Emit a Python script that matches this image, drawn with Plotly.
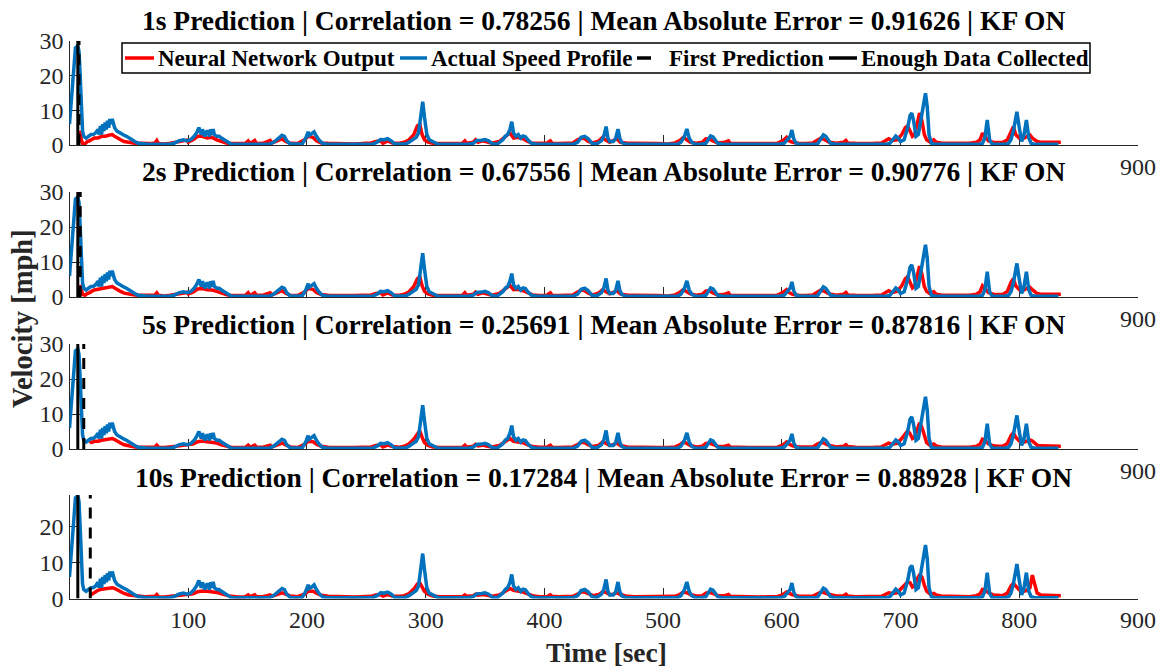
import plotly.graph_objects as go

W, H = 1169, 668

HORIZONS = ["1s", "2s", "5s", "10s"]
CORRELATION = ["0.78256", "0.67556", "0.25691", "0.17284"]
MAE = ["0.91626", "0.90776", "0.87816", "0.88928"]
ENOUGH_DATA_T = 7
FIRST_PRED_T = [8, 9, 12, 17.5]
Y_TOP = [30, 30, 30, 28.8]
X_TICKS = [100, 200, 300, 400, 500, 600, 700, 800, 900]

# measured speed profile [mph] at time [sec]
ACTUAL_T = [0, 2, 4, 5, 7, 8, 9, 10, 11, 12, 14, 16, 18, 20, 22, 24, 25, 26, 27, 28,
            29, 30, 31, 32, 33, 34, 35, 36, 37, 38, 40, 42, 44, 46, 48, 50, 52, 55, 58, 62,
            66, 84, 88, 92, 96, 99, 102, 105, 107, 109, 110, 111, 112, 113, 114, 116, 117, 118, 119, 120,
            121, 122, 124, 126, 128, 130, 133, 136, 140, 168, 172, 176, 179, 181, 183, 186, 190, 196, 199, 201,
            202, 204, 206, 208, 210, 213, 217, 255, 259, 262, 265, 268, 271, 274, 278, 283, 286, 289, 292, 294,
            296, 297.5, 299, 301, 303, 306, 310, 314, 336, 340, 343, 347, 350, 353, 356, 360, 365, 367, 369, 371,
            372.5, 374, 376, 378, 380, 382, 384, 386, 389, 393, 424, 428, 431, 434, 437, 440, 444, 448, 450, 452,
            453.5, 455, 458, 460, 462, 463.5, 465, 468, 472, 512, 515, 518, 520, 522, 524, 527, 532, 536, 538, 540,
            542, 544, 546, 550, 598, 602, 605, 607, 608.5, 610, 612, 615, 630, 633, 635, 637, 639, 641, 645, 688,
            691, 694, 696, 698, 700, 703, 706, 708, 709.5, 711, 713, 715, 717, 719, 721, 722.5, 724, 726, 729, 766,
            769, 771, 773, 775, 777, 780, 788, 791, 793, 795, 797, 798, 800, 802, 804, 806, 808, 810, 813, 833]
ACTUAL_V = [6, 14, 24, 28, 28.6, 27, 20, 10, 4, 2.5, 2, 2.5, 3, 3, 3.5, 4.5, 3, 5.5, 3, 6,
            4, 6.5, 4.5, 7, 5, 7.5, 6, 7.5, 6.5, 5, 4, 3.5, 3, 2.8, 2.5, 2, 1.5, 1, 0.5, 0.3,
            0.2, 0.2, 0.5, 1.2, 1.5, 1.2, 1.5, 2.5, 3.5, 5, 4, 3, 4.5, 3.5, 2.5, 4.2, 3, 2.5, 4.5, 3,
            4.6, 3, 2.5, 2.5, 2, 1.5, 0.8, 0.3, 0.2, 0.2, 0.8, 1.8, 2.8, 2.5, 1.2, 0.3, 0.2, 0.3, 2, 3.8,
            2.8, 3.2, 3.8, 2.5, 1.5, 0.5, 0.2, 0.2, 0.8, 1.6, 1.5, 1.8, 1.2, 0.3, 0.2, 0.3, 0.8, 1.5, 2.2, 3.5,
            8, 12.5, 8, 3, 1.5, 1, 0.3, 0.2, 0.2, 0.5, 1.3, 1.4, 1.6, 1.2, 0.4, 0.2, 1.5, 2.5, 3, 4.5,
            6.7, 3.5, 2.5, 3, 2, 2.6, 2.4, 1.5, 0.5, 0.2, 0.2, 0.8, 2.2, 2.5, 1.8, 0.5, 0.3, 1.2, 2.5, 5.3,
            2, 1, 1, 1.8, 4.6, 2, 0.8, 0.3, 0.2, 0.2, 0.8, 2.5, 4.6, 2, 0.8, 0.3, 0.2, 0.5, 1.5, 2.6,
            2.3, 1.5, 0.5, 0.2, 0.2, 0.5, 1.5, 2.5, 4.3, 1.8, 0.5, 0.2, 0.3, 1.8, 2.9, 2.5, 1.5, 0.5, 0.2, 0.2,
            0.5, 2, 2.6, 2, 1, 1.5, 5, 8.5, 9.2, 7, 2.5, 3, 7, 12, 14.9, 11, 3, 0.5, 0.2, 0.2,
            0.5, 2, 7.2, 1.5, 0.3, 0.2, 0.2, 0.5, 1.5, 4, 7.5, 9.6, 5, 1, 3, 7.2, 2, 0.5, 0.2, 0.2]

# neural network output [mph]; None before the first prediction of each horizon
NN_T = [8, 9, 10, 11, 13, 15, 17.5, 18, 21, 24, 27, 30, 33, 36, 38, 40, 43, 46, 50, 55,
        60, 64, 68, 72, 73.5, 75, 80, 85, 90, 94, 99, 100, 104, 108, 112, 116, 120, 124, 128, 132,
        136, 142, 148, 150.5, 152, 156, 157.5, 163, 169, 170.5, 176, 179, 182, 186, 192, 198, 201, 205, 208, 212,
        218, 224, 230, 236, 240, 246, 250, 254, 258, 262, 264, 268, 272, 278, 282, 286, 290, 293, 295, 297,
        299, 302, 306, 312, 320, 326, 331, 333, 334.5, 340, 342, 344, 348, 352, 356, 362, 366, 369, 371, 374,
        378, 382, 386, 390, 396, 402, 405, 406.5, 412, 418, 424, 428, 431, 434, 437, 441, 446, 449, 451, 455,
        458, 461, 464, 470, 476, 482, 488, 496, 504, 510, 514, 517, 520, 523, 528, 533, 536, 539, 542, 546,
        552, 555, 556.5, 564, 572, 580, 588, 596, 601, 604, 606, 609, 614, 620, 626, 630, 633, 636, 640, 646,
        652, 654, 655.5, 662, 668, 676, 684, 690, 693, 697, 701, 704, 706, 708, 710, 712, 714, 716, 718, 720,
        722, 725, 728, 730, 734, 742, 750, 758, 764, 767, 769, 771, 774, 778, 782, 786, 790, 793, 795, 797,
        800, 803, 806, 809, 811, 813, 815, 818, 824, 830, 835]
NN_V_1S = [4, 3.5, 1.5, 0.5, 0.3, 1, 1.3, 1.5, 2, 2, 2.5, 2.5, 2.8, 3, 2.5, 2, 1.5, 1, 0.7, 0.5,
           0.5, 0.4, 0.4, 0.6, 1.3, 0.4, 0.3, 0.5, 0.8, 1, 1.4, 0.8, 1.5, 2.5, 2.5, 2, 2.2, 1.5, 1, 0.6,
           0.4, 0.3, 0.4, 1.2, 0.4, 1.3, 0.4, 0.5, 1.3, 0.6, 1.5, 1.8, 1, 0.5, 0.4, 1.5, 2.5, 2.2, 1.2, 0.6,
           0.5, 0.4, 0.3, 0.4, 0.3, 0.4, 0.5, 0.6, 1, 1.2, 0.5, 1.2, 0.6, 0.5, 0.8, 1.5, 3, 5.5, 6, 3,
           1.5, 0.8, 0.5, 0.4, 0.3, 0.4, 0.5, 1.2, 0.5, 0.8, 1.5, 0.8, 1.2, 0.8, 0.5, 1, 2, 3, 3.5, 2,
           2.2, 1.8, 1, 0.5, 0.4, 0.5, 1.2, 0.5, 0.4, 0.4, 0.6, 1.5, 2, 1.8, 1, 0.6, 1.2, 2.2, 1.6, 0.8,
           1.3, 1.8, 0.8, 0.5, 0.5, 0.4, 0.3, 0.4, 0.3, 0.6, 1.3, 2.2, 1.5, 0.8, 0.5, 0.8, 1.8, 1.7, 1.2, 0.6,
           0.8, 1.2, 0.5, 0.4, 0.3, 0.4, 0.4, 0.5, 1.3, 2.2, 1.2, 0.8, 0.5, 0.4, 0.6, 1.5, 2, 1.5, 0.8, 0.5,
           0.8, 1.3, 0.6, 0.5, 0.4, 0.4, 0.6, 1.8, 1.3, 1.5, 3, 5, 5.5, 4, 2.5, 3, 6, 9.2, 7, 3,
           1.5, 0.8, 1.5, 0.8, 0.6, 0.5, 0.4, 0.5, 0.8, 1.5, 3.4, 2.5, 1.2, 0.8, 0.8, 0.7, 1.5, 4, 5.3, 3,
           2, 1.8, 2.5, 2.9, 2, 1.5, 1, 0.8, 0.8, 0.8, 0.8]
NN_V_2S = [None, 3.5, 2, 0.8, 0.5, 1, 1.3, 1.5, 2, 2.2, 2.5, 2.6, 2.8, 3, 2.6, 2.1, 1.6, 1.1, 0.8, 0.6,
           0.5, 0.4, 0.5, 0.6, 1.2, 0.5, 0.3, 0.5, 0.8, 1, 1.3, 0.9, 1.4, 2.3, 2.4, 2.1, 2, 1.6, 1.1, 0.7,
           0.4, 0.3, 0.4, 1.2, 0.4, 1.2, 0.5, 0.5, 1.2, 0.6, 1.4, 1.8, 1.1, 0.5, 0.4, 1.4, 2.4, 2.2, 1.3, 0.7,
           0.5, 0.4, 0.3, 0.4, 0.4, 0.4, 0.5, 0.6, 1, 1.2, 0.6, 1.2, 0.6, 0.5, 0.8, 1.5, 3, 5.2, 5.8, 3.2,
           1.6, 0.9, 0.5, 0.4, 0.3, 0.4, 0.5, 1.2, 0.5, 0.8, 1.4, 0.8, 1.2, 0.8, 0.5, 1, 2, 2.8, 3.3, 2.1,
           2.2, 1.8, 1.1, 0.6, 0.4, 0.5, 1.2, 0.5, 0.4, 0.4, 0.6, 1.4, 2, 1.8, 1.1, 0.6, 1.2, 2.1, 1.7, 0.9,
           1.3, 1.8, 0.9, 0.5, 0.5, 0.4, 0.3, 0.4, 0.3, 0.6, 1.3, 2.1, 1.5, 0.9, 0.5, 0.8, 1.7, 1.7, 1.2, 0.6,
           0.8, 1.2, 0.5, 0.4, 0.3, 0.4, 0.4, 0.5, 1.3, 2.1, 1.3, 0.8, 0.5, 0.4, 0.6, 1.5, 2, 1.6, 0.9, 0.5,
           0.8, 1.3, 0.6, 0.5, 0.4, 0.4, 0.6, 1.8, 1.3, 1.6, 3.2, 5.2, 5.8, 4.2, 2.6, 3.2, 6.5, 8.8, 6.5, 3,
           1.6, 0.9, 1.5, 0.8, 0.6, 0.5, 0.4, 0.5, 0.8, 1.5, 3.2, 2.5, 1.3, 0.8, 0.8, 0.7, 1.6, 4.2, 5.2, 3.2,
           2.1, 1.8, 2.4, 2.8, 2.1, 1.5, 1, 0.8, 0.8, 0.8, 0.8]
NN_V_5S = [None, None, None, None, None, None, 1.5, 1.8, 2.2, 2.2, 2.5, 2.6, 2.8, 3, 2.7, 2.2, 1.7, 1.2, 0.9, 0.6,
           0.5, 0.5, 0.5, 0.6, 1.1, 0.5, 0.4, 0.5, 0.8, 1, 1.2, 1, 1.4, 2.1, 2.3, 2.1, 2, 1.7, 1.2, 0.8,
           0.5, 0.4, 0.4, 1.1, 0.5, 1.1, 0.5, 0.5, 1.1, 0.6, 1.3, 1.7, 1.2, 0.6, 0.4, 1.3, 2.2, 2.1, 1.4, 0.8,
           0.5, 0.4, 0.4, 0.4, 0.4, 0.4, 0.5, 0.6, 1, 1.2, 0.6, 1.1, 0.7, 0.5, 0.8, 1.5, 2.8, 4.5, 5.2, 3.4,
           1.8, 1, 0.6, 0.4, 0.4, 0.4, 0.5, 1.1, 0.5, 0.8, 1.3, 0.9, 1.1, 0.8, 0.6, 1, 1.8, 2.6, 3, 2.2,
           2.1, 1.8, 1.2, 0.7, 0.5, 0.5, 1.1, 0.5, 0.4, 0.4, 0.6, 1.3, 1.9, 1.8, 1.2, 0.7, 1.1, 2, 1.8, 1,
           1.2, 1.7, 1, 0.6, 0.5, 0.4, 0.4, 0.4, 0.4, 0.6, 1.2, 2, 1.6, 1, 0.6, 0.8, 1.6, 1.7, 1.3, 0.7,
           0.8, 1.1, 0.6, 0.4, 0.4, 0.4, 0.4, 0.5, 1.2, 2, 1.4, 0.9, 0.6, 0.5, 0.6, 1.4, 1.9, 1.6, 1, 0.6,
           0.8, 1.2, 0.7, 0.5, 0.4, 0.4, 0.6, 1.7, 1.4, 1.6, 3, 4.5, 5.2, 4.4, 3, 3.4, 5.8, 7.5, 6.2, 3.5,
           1.8, 1, 1.4, 0.9, 0.6, 0.5, 0.5, 0.5, 0.8, 1.4, 2.8, 2.5, 1.5, 0.9, 0.8, 0.8, 1.6, 3.8, 4.6, 3.4,
           2.3, 1.9, 2.2, 2.6, 2.3, 1.6, 1.1, 0.9, 0.8, 0.8, 0.8]
NN_V_10S = [None, None, None, None, None, None, None, 1, 1.8, 2.3, 2.6, 2.8, 3, 3, 2.8, 2.4, 1.9, 1.4, 1, 0.7,
            0.6, 0.5, 0.5, 0.6, 1.1, 0.5, 0.4, 0.6, 0.8, 1, 1.2, 1, 1.3, 1.9, 2.1, 2, 1.9, 1.7, 1.3, 0.9,
            0.6, 0.4, 0.5, 1, 0.5, 1, 0.5, 0.5, 1, 0.6, 1.2, 1.6, 1.2, 0.7, 0.5, 1.2, 2, 2, 1.5, 0.9,
            0.6, 0.5, 0.4, 0.4, 0.4, 0.5, 0.5, 0.6, 1, 1.1, 0.7, 1.1, 0.7, 0.6, 0.8, 1.4, 2.6, 4, 4.4, 3.4,
            2, 1.2, 0.7, 0.5, 0.4, 0.5, 0.5, 1, 0.6, 0.8, 1.2, 0.9, 1.1, 0.9, 0.6, 1, 1.7, 2.4, 2.8, 2.3,
            2.1, 1.8, 1.3, 0.8, 0.5, 0.5, 1, 0.6, 0.5, 0.5, 0.6, 1.2, 1.8, 1.8, 1.3, 0.8, 1.1, 1.8, 1.8, 1.1,
            1.2, 1.6, 1.1, 0.6, 0.5, 0.5, 0.4, 0.4, 0.4, 0.6, 1.1, 1.8, 1.6, 1.1, 0.7, 0.8, 1.5, 1.7, 1.4, 0.8,
            0.8, 1.1, 0.6, 0.5, 0.4, 0.4, 0.5, 0.5, 1.1, 1.8, 1.5, 1, 0.7, 0.6, 0.6, 1.3, 1.8, 1.6, 1.1, 0.7,
            0.8, 1.2, 0.7, 0.5, 0.5, 0.5, 0.6, 1.6, 1.4, 1.6, 2.8, 4, 4.6, 4.4, 3.2, 3.6, 5.5, 6.5, 6, 3.8,
            2, 1.2, 1.4, 1, 0.7, 0.6, 0.5, 0.5, 0.8, 1.3, 2.5, 2.4, 1.6, 1, 0.9, 0.8, 1.5, 3.5, 4.2, 3.4,
            2.4, 2, 2.2, 3, 6.5, 4, 1.5, 1, 0.9, 0.8, 0.8]
NN_V = [NN_V_1S, NN_V_2S, NN_V_5S, NN_V_10S]

RED = "#FF0000"
BLUE = "#0072BD"
AXIS_GRAY = "#262626"
FONT = "Liberation Serif"

X0_PX, X1_PX = 69.5, 1138
# (top, bottom) of each axes box in pixels
AX_PX = [(41, 145), (192, 297), (344, 449), (495, 598.5)]

fig = go.Figure()


def px_x(p):
    return p / W


def px_y(p):
    return 1 - p / H


for i, (top, bottom) in enumerate(AX_PX):
    n = i + 1
    xa = "x" if n == 1 else f"x{n}"
    ya = "y" if n == 1 else f"y{n}"
    last = i == len(AX_PX) - 1

    fig.add_trace(go.Scatter(x=NN_T, y=NN_V[i], mode="lines", line=dict(color=RED, width=3.5),
                             xaxis=xa, yaxis=ya, showlegend=False, connectgaps=False))
    fig.add_trace(go.Scatter(x=ACTUAL_T, y=ACTUAL_V, mode="lines", line=dict(color=BLUE, width=3.5),
                             xaxis=xa, yaxis=ya, showlegend=False))
    fig.add_trace(go.Scatter(x=[FIRST_PRED_T[i], FIRST_PRED_T[i]], y=[0, Y_TOP[i]], mode="lines",
                             line=dict(color="black", width=3, dash="11px,9px"),
                             xaxis=xa, yaxis=ya, showlegend=False))
    fig.add_trace(go.Scatter(x=[ENOUGH_DATA_T, ENOUGH_DATA_T], y=[0, Y_TOP[i]], mode="lines",
                             line=dict(color="black", width=3),
                             xaxis=xa, yaxis=ya, showlegend=False))

    xaxis = dict(domain=[px_x(X0_PX), px_x(X1_PX)], range=[0, 900], anchor=ya, automargin=False,
                 tickvals=X_TICKS,
                 ticktext=[str(v) for v in X_TICKS] if last else ["" for _ in X_TICKS[:-1]] + ["900"],
                 ticks="inside", ticklen=10, tickwidth=1.3, tickcolor=AXIS_GRAY,
                 showline=True, linecolor=AXIS_GRAY, linewidth=1.3, showgrid=False, zeroline=False,
                 tickfont=dict(family=FONT, size=24, color=AXIS_GRAY), layer="below traces")
    yvals = [0, 10, 20, 30] if Y_TOP[i] >= 30 else [0, 10, 20]
    yaxis = dict(domain=[px_y(bottom), px_y(top)], range=[0, Y_TOP[i]], anchor=xa, automargin=False,
                 tickvals=yvals, ticks="inside", ticklen=10, tickwidth=1.3, tickcolor=AXIS_GRAY,
                 showline=True, linecolor=AXIS_GRAY, linewidth=1.3, showgrid=False, zeroline=False,
                 tickfont=dict(family=FONT, size=24, color=AXIS_GRAY), layer="below traces")
    fig.update_layout({f"xaxis{'' if n == 1 else n}": xaxis, f"yaxis{'' if n == 1 else n}": yaxis})

annotations = []
TITLE_Y = [20, 172, 325, 477]
for i in range(4):
    annotations.append(dict(
        text=f"<b>{HORIZONS[i]} Prediction | Correlation = {CORRELATION[i]} | "
             f"Mean Absolute Error = {MAE[i]} | KF ON</b>",
        x=px_x((X0_PX + X1_PX) / 2), y=px_y(TITLE_Y[i]), xref="paper", yref="paper",
        xanchor="center", yanchor="middle", showarrow=False,
        font=dict(family=FONT, size=27.5, color="black")))

annotations.append(dict(text="<b>Time [sec]</b>", x=px_x(606), y=px_y(652), xref="paper", yref="paper",
                        xanchor="center", yanchor="middle", showarrow=False,
                        font=dict(family=FONT, size=27.5, color=AXIS_GRAY)))
annotations.append(dict(text="<b>Velocity [mph]</b>", x=px_x(22), y=px_y(319), xref="paper", yref="paper",
                        xanchor="center", yanchor="middle", showarrow=False, textangle=-90,
                        font=dict(family=FONT, size=28.5, color=AXIS_GRAY)))

# legend drawn as a framed row of line samples and labels
LEG_Y = 58
legend_items = [
    ("Neural Network Output", RED, 125, 154, 156),
    ("Actual Speed Profile", BLUE, 400, 427, 429),
    ("First Prediction", "black", 637, 651, 667),
    ("Enough Data Collected", "black", 829, 857, 859),
]
shapes = [dict(type="rect", xref="paper", yref="paper", x0=px_x(122), x1=px_x(1090),
               y0=px_y(73), y1=px_y(43), line=dict(color="black", width=1.5), fillcolor="white",
               layer="above")]
for label, color, l0, l1, tx in legend_items:
    shapes.append(dict(type="line", xref="paper", yref="paper", x0=px_x(l0), x1=px_x(l1),
                       y0=px_y(LEG_Y), y1=px_y(LEG_Y), line=dict(color=color, width=3.5),
                       layer="above"))
    annotations.append(dict(text=f"<b>{label}</b>", x=px_x(tx), y=px_y(LEG_Y + 1), xref="paper", yref="paper",
                            xanchor="left", yanchor="middle", showarrow=False,
                            font=dict(family=FONT, size=23, color="black")))

fig.update_layout(
    template="none",
    width=W, height=H, margin=dict(l=0, r=0, t=0, b=0, autoexpand=False),
    paper_bgcolor="white", plot_bgcolor="white",
    annotations=annotations, shapes=shapes, showlegend=False,
)

fig.write_html("out.html")
